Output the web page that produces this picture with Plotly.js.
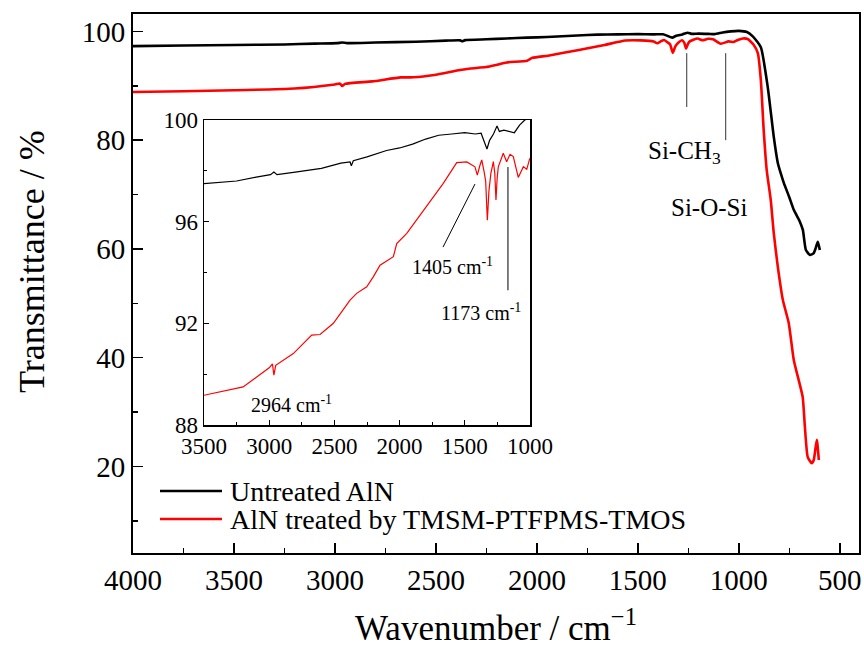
<!DOCTYPE html>
<html>
<head>
<meta charset="utf-8">
<script src="https://cdn.plot.ly/plotly-3.0.1.min.js"></script>
<style>html,body{margin:0;padding:0;background:#fff;}#chart{width:864px;height:648px;}</style>
</head>
<body>
<div id="chart"></div>
<script>
// ---- data ----
const seriesNames = ["Untreated AlN", "AlN treated by TMSM-PTFPMS-TMOS"];

const blackWn = [4000, 3750, 3500, 3250, 3100, 2990, 2964, 2940, 2800, 2600, 2450, 2380, 2370, 2355, 2250, 2150, 2100, 2000, 1900, 1800, 1700, 1600, 1500, 1420, 1375, 1355, 1330, 1310, 1280, 1253, 1235, 1200, 1150, 1120, 1080, 1040, 1000, 960, 931, 891, 857, 827, 807, 790, 777, 750, 728, 700, 683, 668, 648, 630, 619, 609, 599];
const blackT  = [97.3, 97.4, 97.5, 97.6, 97.75, 97.85, 97.95, 97.85, 97.95, 98.1, 98.3, 98.35, 98.2, 98.4, 98.55, 98.7, 98.8, 98.9, 99.05, 99.25, 99.4, 99.45, 99.5, 99.45, 99.48, 99.2, 98.86, 99.2, 99.45, 99.76, 99.55, 99.6, 99.55, 99.5, 99.8, 100.0, 100.1, 99.9, 99.1, 97.1, 89.8, 80.6, 75.8, 73.6, 72.1, 69.5, 67.2, 65.2, 63.5, 59.8, 58.9, 59.2, 60.2, 61.3, 59.8];

const redWn = [4000, 3750, 3500, 3200, 3000, 2975, 2964, 2950, 2815, 2674, 2610, 2508, 2380, 2329, 2252, 2202, 2150, 2048, 2022, 1945, 1792, 1665, 1562, 1485, 1422, 1404, 1385, 1370, 1352, 1340, 1327, 1315, 1300, 1281, 1270, 1261, 1252, 1243, 1205, 1179, 1153, 1128, 1090, 1051, 1025, 1005, 980, 956, 926, 906, 891, 877, 862, 842, 827, 807, 782, 753, 728, 684, 673, 659, 639, 629, 614, 604];
const redT  = [88.85, 89.0, 89.17, 89.5, 90.25, 90.4, 89.96, 90.35, 90.81, 91.54, 91.56, 92.0, 92.91, 93.18, 93.44, 93.83, 94.29, 94.62, 95.14, 95.54, 96.59, 97.51, 98.32, 98.35, 98.16, 97.83, 98.2, 98.43, 97.97, 97.6, 96.06, 97.2, 97.9, 98.36, 97.9, 96.85, 97.7, 98.16, 98.69, 98.36, 98.65, 98.56, 97.74, 98.16, 98.06, 98.43, 98.7, 98.6, 97.5, 96.0, 91.05, 81.9, 74.5, 69.0, 62.9, 56.7, 50.6, 46.4, 39.6, 32.8, 27.3, 21.75, 20.6, 21.2, 24.9, 21.2];

const mainXTicks = [4000, 3500, 3000, 2500, 2000, 1500, 1000, 500];
const mainYTicks = [20, 40, 60, 80, 100];
const insetXTicks = [3500, 3000, 2500, 2000, 1500, 1000];
const insetYTicks = [88, 92, 96, 100];

// ---- styling / layout ----
const FONT = '"Liberation Serif", "Times New Roman", Times, serif';
const colors = ['#000000', '#ff0000'];

const traces = [
  {x: blackWn, y: blackT, mode: 'lines', line: {color: colors[0], width: 2.6, shape: 'spline', smoothing: 0.5}, name: seriesNames[0], xaxis: 'x', yaxis: 'y', showlegend: false},
  {x: redWn, y: redT, mode: 'lines', line: {color: colors[1], width: 2.6, shape: 'spline', smoothing: 0.5}, name: seriesNames[1], xaxis: 'x', yaxis: 'y', showlegend: false},
  {x: blackWn, y: blackT, mode: 'lines', line: {color: colors[0], width: 1.2}, name: seriesNames[0], xaxis: 'x2', yaxis: 'y2', showlegend: false},
  {x: redWn, y: redT, mode: 'lines', line: {color: colors[1], width: 1.2}, name: seriesNames[1], xaxis: 'x2', yaxis: 'y2', showlegend: false}
];

const axBase = {
  showline: true, mirror: true, linecolor: '#000', showgrid: false, zeroline: false,
  ticks: 'inside', tickcolor: '#000'
};

// pixel helpers for paper coordinates (plot area 133..859 x 14..553)
const PX = p => (p - 133) / 726;
const PY = p => (553 - p) / 539;

const layout = {
  width: 864, height: 648,
  margin: {l: 133, r: 5, t: 14, b: 95},
  paper_bgcolor: '#fff', plot_bgcolor: '#fff',
  font: {family: FONT, color: '#000'},
  showlegend: false,
  xaxis: Object.assign({}, axBase, {
    range: [4000, 405], tickvals: mainXTicks, ticktext: mainXTicks.map(String),
    linewidth: 2, ticklen: 10, tickwidth: 1.5,
    minor: {dtick: 250, tick0: 0, ticklen: 5, tickcolor: '#000', ticks: 'inside', tickwidth: 1.5},
    tickfont: {family: FONT, size: 29},
    title: {text: 'Wavenumber / cm<sup>\u22121</sup>', font: {family: FONT, size: 35}, standoff: 22}
  }),
  yaxis: Object.assign({}, axBase, {
    range: [4.1, 103.2], tickvals: mainYTicks, ticktext: mainYTicks.map(String),
    linewidth: 2, ticklen: 10, tickwidth: 1.5,
    minor: {dtick: 10, tick0: 0, ticklen: 5, tickcolor: '#000', ticks: 'inside', tickwidth: 1.5},
    tickfont: {family: FONT, size: 29}
  }),
  xaxis2: Object.assign({}, axBase, {
    domain: [PX(204), PX(530)], anchor: 'y2',
    range: [3500, 1000], tickvals: insetXTicks, ticktext: insetXTicks.map(String),
    linewidth: 1.5, ticklen: 5, tickwidth: 1,
    minor: {dtick: 250, tick0: 0, ticklen: 3, tickcolor: '#000', ticks: 'inside', tickwidth: 1},
    tickfont: {family: FONT, size: 23}
  }),
  yaxis2: Object.assign({}, axBase, {
    domain: [PY(425), PY(120)], anchor: 'x2',
    range: [88, 100], tickvals: insetYTicks, ticktext: insetYTicks.map(String),
    linewidth: 1.5, ticklen: 5, tickwidth: 1,
    minor: {dtick: 2, tick0: 0, ticklen: 3, tickcolor: '#000', ticks: 'inside', tickwidth: 1},
    tickfont: {family: FONT, size: 23}
  }),
  shapes: [
    // main annotation leaders
    {type: 'line', xref: 'x', yref: 'y', x0: 1258, x1: 1258, y0: 96.0, y1: 86.1, line: {color: '#333', width: 1}},
    {type: 'line', xref: 'x', yref: 'y', x0: 1065, x1: 1065, y0: 96.0, y1: 80.0, line: {color: '#333', width: 1}},
    // inset annotation leaders
    {type: 'line', xref: 'x2', yref: 'y2', x0: 1422, x1: 1667, y0: 97.48, y1: 95.0, line: {color: '#000', width: 1}},
    {type: 'line', xref: 'x2', yref: 'y2', x0: 1169, x1: 1169, y0: 98.15, y1: 93.3, line: {color: '#000', width: 1}},
    // legend samples
    {type: 'line', xref: 'paper', yref: 'paper', x0: PX(160), x1: PX(222), y0: PY(491), y1: PY(491), line: {color: colors[0], width: 2.6}},
    {type: 'line', xref: 'paper', yref: 'paper', x0: PX(160), x1: PX(222), y0: PY(519), y1: PY(519), line: {color: colors[1], width: 2.6}}
  ],
  annotations: [
    {xref: 'paper', yref: 'paper', x: PX(32), y: PY(262), text: 'Transmittance / %', textangle: -90, showarrow: false, font: {family: FONT, size: 36}, xanchor: 'center', yanchor: 'middle'},
    {xref: 'paper', yref: 'paper', x: PX(684), y: PY(152), text: 'Si-CH<sub>3</sub>', showarrow: false, font: {family: FONT, size: 25}, xanchor: 'center', yanchor: 'middle'},
    {xref: 'paper', yref: 'paper', x: PX(709), y: PY(207), text: 'Si-O-Si', showarrow: false, font: {family: FONT, size: 25}, xanchor: 'center', yanchor: 'middle'},
    {xref: 'paper', yref: 'paper', x: PX(452), y: PY(266), text: '1405 cm<sup>-1</sup>', showarrow: false, font: {family: FONT, size: 20}, xanchor: 'center', yanchor: 'middle'},
    {xref: 'paper', yref: 'paper', x: PX(481), y: PY(312), text: '1173 cm<sup>-1</sup>', showarrow: false, font: {family: FONT, size: 20}, xanchor: 'center', yanchor: 'middle'},
    {xref: 'paper', yref: 'paper', x: PX(291), y: PY(404), text: '2964 cm<sup>-1</sup>', showarrow: false, font: {family: FONT, size: 20}, xanchor: 'center', yanchor: 'middle'},
    {xref: 'paper', yref: 'paper', x: PX(228), y: PY(491), text: seriesNames[0], showarrow: false, font: {family: FONT, size: 28}, xanchor: 'left', yanchor: 'middle'},
    {xref: 'paper', yref: 'paper', x: PX(228), y: PY(519), text: seriesNames[1], showarrow: false, font: {family: FONT, size: 28}, xanchor: 'left', yanchor: 'middle'}
  ]
};

Plotly.newPlot('chart', traces, layout, {displayModeBar: false, staticPlot: true});
</script>
</body>
</html>
